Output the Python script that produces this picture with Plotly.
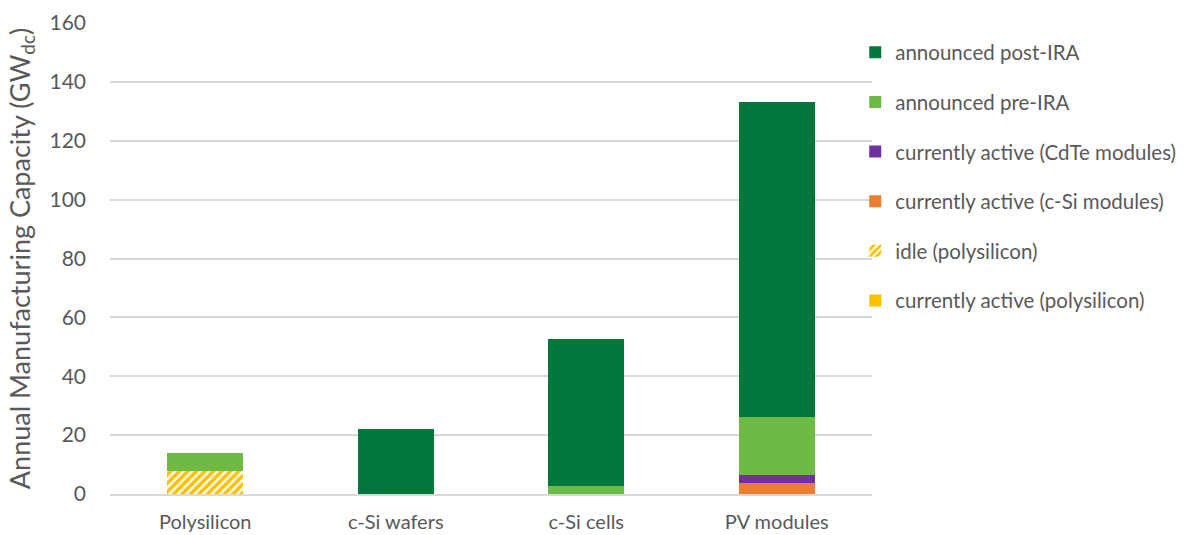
import plotly.graph_objects as go

# Capacity by supply-chain stage (GWdc)
categories = ["Polysilicon", "c-Si wafers", "c-Si cells", "PV modules"]
active_polysilicon = [0, 0, 0, 0]
idle_polysilicon = [7.7, 0, 0, 0]
active_csi_modules = [0, 0, 0, 3.7]
active_cdte_modules = [0, 0, 0, 2.7]
announced_pre_ira = [6.2, 0, 2.8, 19.8]
announced_post_ira = [0, 22.0, 50.0, 106.8]

y_ticks = [0, 20, 40, 60, 80, 100, 120, 140, 160]

FONT = "Lato, Calibri, Carlito, sans-serif"
GREY = "#595959"

# (name, values, colour, hatch, legend position)
series = [
    ("currently active (polysilicon)", active_polysilicon, "#FFC000", None, 6),
    ("idle (polysilicon)", idle_polysilicon, "#FFC000", "/", 5),
    ("currently active (c-Si modules)", active_csi_modules, "#ED7D31", None, 4),
    ("currently active (CdTe modules)", active_cdte_modules, "#7030A0", None, 3),
    ("announced pre-IRA", announced_pre_ira, "#6DBB45", None, 2),
    ("announced post-IRA", announced_post_ira, "#00773B", None, 1),
]

fig = go.Figure()
for name, vals, color, hatch, rank in series:
    if hatch:
        marker = dict(color="white",
                      pattern=dict(shape=hatch, fgcolor=color, bgcolor="white",
                                   fgopacity=1, size=6, solidity=0.6,
                                   fillmode="replace"),
                      line=dict(width=0))
    else:
        marker = dict(color=color, line=dict(width=0))
    fig.add_trace(go.Bar(x=categories, y=vals, name=name, marker=marker,
                         legendgroup=name, legendrank=rank, width=0.4))

fig.update_layout(
    barmode="stack",
    width=1192, height=535,
    margin=dict(l=110, r=320, t=23, b=41, autoexpand=False),
    plot_bgcolor="white", paper_bgcolor="white",
    font=dict(family=FONT, color=GREY),
    showlegend=True,
    legend=dict(traceorder="grouped", tracegroupgap=20,
                x=0.978, xanchor="left", y=0.98, yanchor="top",
                font=dict(size=20.5, color=GREY), itemwidth=30,
                maxheight=1.0,
                bgcolor="rgba(0,0,0,0)"),
    xaxis=dict(tickfont=dict(size=20, color=GREY), showline=True,
               linecolor="#D9D9D9", linewidth=1.5, ticks="",
               ticklabelstandoff=9, automargin=False),
    yaxis=dict(range=[0, 160], tickvals=y_ticks, gridcolor="#D9D9D9",
               gridwidth=1.5, zeroline=False, tickfont=dict(size=21, color=GREY),
               ticklabelstandoff=23, automargin=False,
               title=dict(text="Annual Manufacturing Capacity (GW<sub>dc</sub>)",
                          font=dict(size=27, color=GREY), standoff=11)),
)

fig.write_html("out.html")
